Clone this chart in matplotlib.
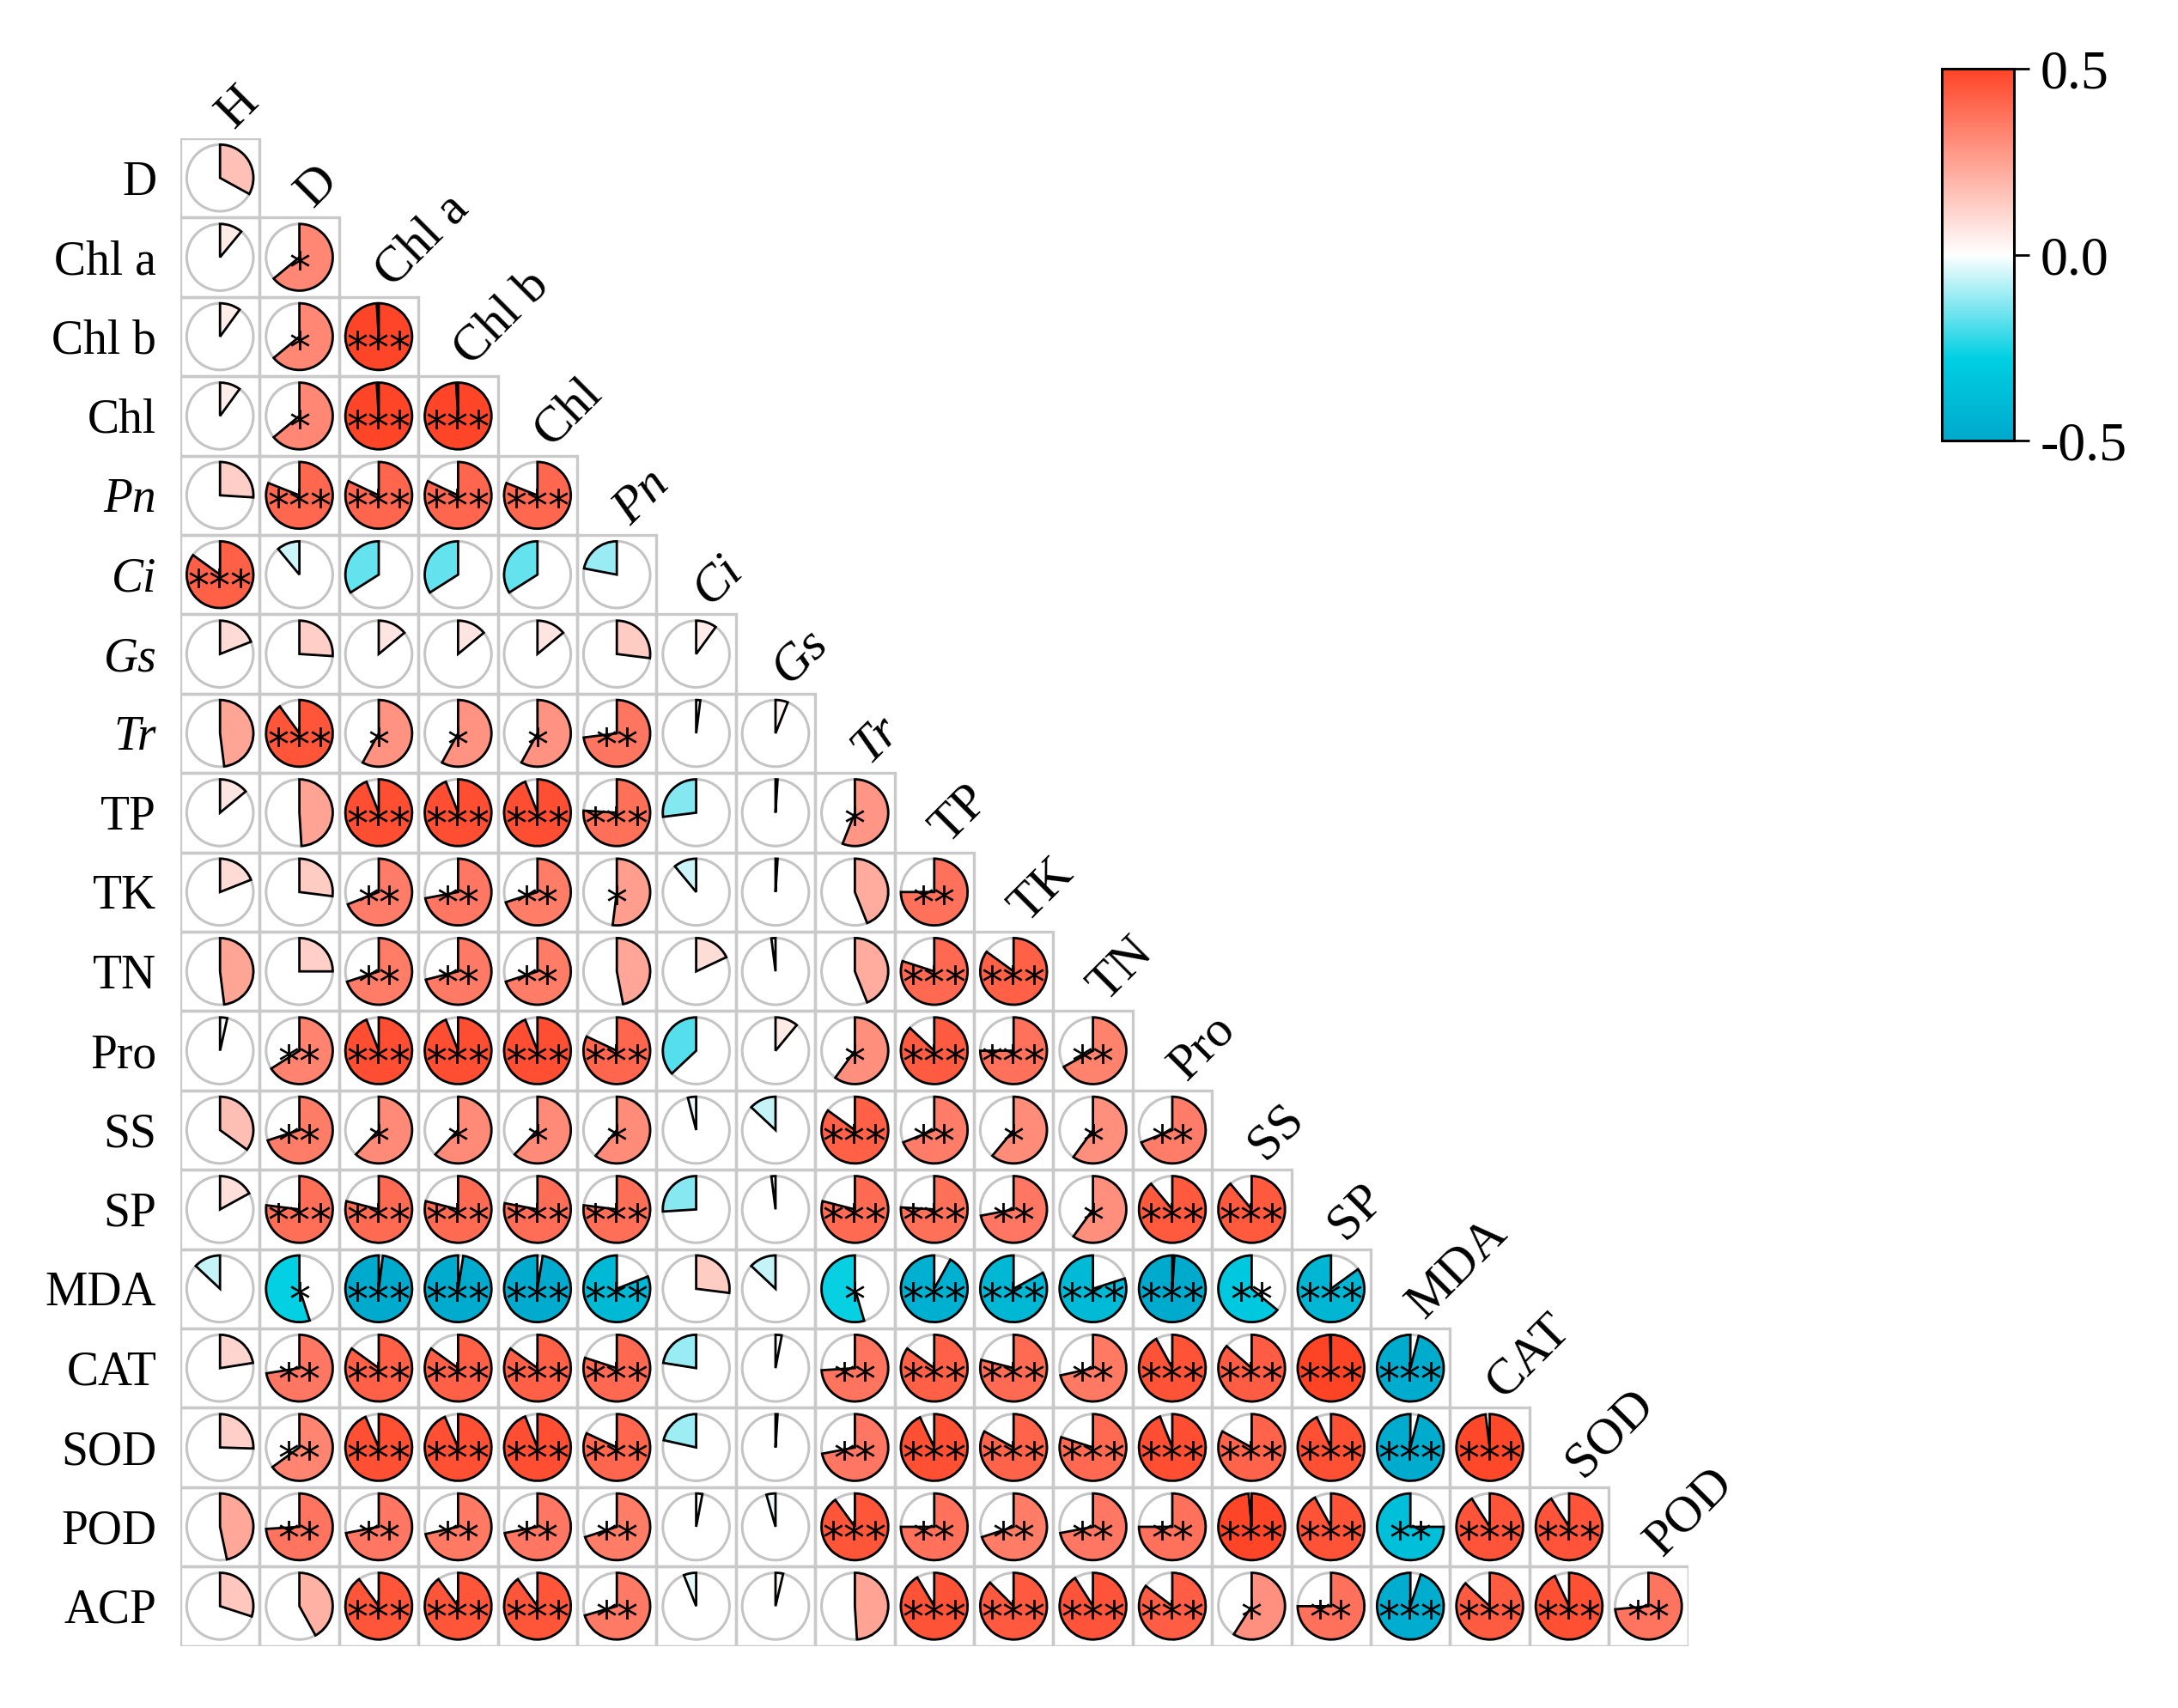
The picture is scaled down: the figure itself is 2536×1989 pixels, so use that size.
import matplotlib
matplotlib.use('Agg')
import matplotlib.pyplot as plt
from matplotlib.patches import Wedge, Circle, Rectangle
from matplotlib.colors import LinearSegmentedColormap, Normalize
from matplotlib.cm import ScalarMappable

col_labels = ['H', 'D', 'Chl a', 'Chl b', 'Chl', 'Pn', 'Ci', 'Gs', 'Tr', 'TP', 'TK',
              'TN', 'Pro', 'SS', 'SP', 'MDA', 'CAT', 'SOD', 'POD']
row_labels = ['D', 'Chl a', 'Chl b', 'Chl', 'Pn', 'Ci', 'Gs', 'Tr', 'TP', 'TK', 'TN',
              'Pro', 'SS', 'SP', 'MDA', 'CAT', 'SOD', 'POD', 'ACP']
italic_labels = ['Pn', 'Ci', 'Gs', 'Tr']

# correlation coefficients (lower triangle, one list per row)
r_D = [0.33]
r_Chla = [0.11, 0.64]
r_Chlb = [0.10, 0.64, 0.99]
r_Chl = [0.10, 0.64, 0.99, 0.99]
r_Pn = [0.26, 0.81, 0.82, 0.82, 0.81]
r_Ci = [0.85, -0.11, -0.34, -0.34, -0.34, -0.22]
r_Gs = [0.19, 0.26, 0.14, 0.14, 0.14, 0.27, 0.10]
r_Tr = [0.48, 0.90, 0.58, 0.58, 0.58, 0.73, 0.02, 0.06]
r_TP = [0.14, 0.49, 0.94, 0.94, 0.94, 0.76, -0.27, 0.01, 0.56]
r_TK = [0.19, 0.27, 0.69, 0.72, 0.70, 0.52, -0.11, 0.01, 0.44, 0.75]
r_TN = [0.48, 0.25, 0.70, 0.71, 0.70, 0.47, 0.18, -0.02, 0.44, 0.80, 0.85]
r_Pro = [0.035, 0.66, 0.94, 0.94, 0.94, 0.82, -0.37, 0.11, 0.60, 0.87, 0.75, 0.67]
r_SS = [0.35, 0.70, 0.62, 0.62, 0.62, 0.61, -0.04, -0.13, 0.85, 0.69, 0.61, 0.60, 0.69]
r_SP = [0.17, 0.77, 0.79, 0.79, 0.78, 0.77, -0.26, -0.02, 0.79, 0.76, 0.72, 0.60, 0.89, 0.89]
r_MDA = [-0.13, -0.55, -0.98, -0.975, -0.975, -0.81, 0.27, -0.13, -0.545, -0.92, -0.83,
         -0.80, -0.99, -0.64, -0.85]
r_CAT = [0.225, 0.725, 0.85, 0.85, 0.85, 0.80, -0.225, 0.03, 0.74, 0.85, 0.79, 0.715,
         0.92, 0.865, 0.995, -0.96]
r_SOD = [0.255, 0.65, 0.935, 0.935, 0.94, 0.82, -0.215, 0.01, 0.72, 0.93, 0.83, 0.80,
         0.94, 0.83, 0.93, -0.96, 0.98]
r_POD = [0.467, 0.74, 0.72, 0.715, 0.72, 0.70, 0.03, -0.044, 0.90, 0.75, 0.70, 0.72,
         0.75, 0.985, 0.92, -0.75, 0.91, 0.91]
r_ACP = [0.30, 0.42, 0.90, 0.90, 0.90, 0.705, -0.06, 0.037, 0.49, 0.915, 0.875, 0.91,
         0.854, 0.59, 0.75, -0.95, 0.87, 0.93, 0.735]

# significance marks
s_D = ['']
s_Chla = ['', '*']
s_Chlb = ['', '*', '***']
s_Chl = ['', '*', '***', '***']
s_Pn = ['', '***', '***', '***', '***']
s_Ci = ['***', '', '', '', '', '']
s_Gs = ['', '', '', '', '', '', '']
s_Tr = ['', '***', '*', '*', '*', '**', '', '']
s_TP = ['', '', '***', '***', '***', '***', '', '', '*']
s_TK = ['', '', '**', '**', '**', '*', '', '', '', '**']
s_TN = ['', '', '**', '**', '**', '', '', '', '', '***', '***']
s_Pro = ['', '**', '***', '***', '***', '***', '', '', '*', '***', '***', '**']
s_SS = ['', '**', '*', '*', '*', '*', '', '', '***', '**', '*', '*', '**']
s_SP = ['', '***', '***', '***', '***', '***', '', '', '***', '***', '**', '*', '***', '***']
s_MDA = ['', '*', '***', '***', '***', '***', '', '', '*', '***', '***', '***', '***', '**', '***']
s_CAT = ['', '**', '***', '***', '***', '***', '', '', '**', '***', '***', '**', '***', '***',
         '***', '***']
s_SOD = ['', '**', '***', '***', '***', '***', '', '', '**', '***', '***', '***', '***', '***',
         '***', '***', '***']
s_POD = ['', '**', '**', '**', '**', '**', '', '', '***', '**', '**', '**', '**', '***',
         '***', '**', '***', '***']
s_ACP = ['', '', '***', '***', '***', '**', '', '', '', '***', '***', '***', '***', '*',
         '**', '***', '***', '***', '**']

corr_rows = [r_D, r_Chla, r_Chlb, r_Chl, r_Pn, r_Ci, r_Gs, r_Tr, r_TP, r_TK, r_TN, r_Pro,
             r_SS, r_SP, r_MDA, r_CAT, r_SOD, r_POD, r_ACP]
sig_rows = [s_D, s_Chla, s_Chlb, s_Chl, s_Pn, s_Ci, s_Gs, s_Tr, s_TP, s_TK, s_TN, s_Pro,
            s_SS, s_SP, s_MDA, s_CAT, s_SOD, s_POD, s_ACP]

cmap = LinearSegmentedColormap.from_list(
    'pie', [(0.0, '#00A9CC'), (0.22, '#00CFE2'), (0.5, '#FFFFFF'), (1.0, '#FF4426')])

SERIF = 'Liberation Serif'
W, H = 2536, 1990
fig = plt.figure(figsize=(W / 100, H / 100), dpi=100)
n = len(col_labels)
cell_px = 92.4
left_px, top_px = 210, 162
ax = fig.add_axes([left_px / W, 1 - (top_px + n * cell_px) / H, n * cell_px / W, n * cell_px / H])
ax.set_xlim(0, n)
ax.set_ylim(0, n)
ax.axis('off')

R = 0.42
for i, (vals, sigs) in enumerate(zip(corr_rows, sig_rows)):
    y0 = n - i - 1
    cy = y0 + 0.5
    for j, (v, s) in enumerate(zip(vals, sigs)):
        cx = j + 0.5
        ax.add_patch(Rectangle((j, y0), 1, 1, fill=False, ec='#c9c9c9', lw=2.4, zorder=1))
        ax.add_patch(Circle((cx, cy), R, fill=False, ec='#c4c4c4', lw=2.2, zorder=2))
        color = cmap((v + 1) / 2)
        if v >= 0:
            w = Wedge((cx, cy), R, 90 - 360 * v, 90, fc=color, ec='black', lw=2.0, zorder=3)
        else:
            w = Wedge((cx, cy), R, 90, 90 - 360 * v, fc=color, ec='black', lw=2.0, zorder=3)
        ax.add_patch(w)
        if s:
            ax.text(cx, cy - 0.31, s, ha='center', va='baseline', fontsize=36,
                    family='DejaVu Sans', zorder=4)

# row labels
for i, lab in enumerate(row_labels):
    cy = n - i - 0.5
    ax.text(-0.3, cy - 0.2, lab, ha='right', va='baseline', fontsize=40, family=SERIF,
            style='italic' if lab in italic_labels else 'normal', clip_on=False)

# column labels (diagonal)
for j, lab in enumerate(col_labels):
    top = n - j
    ax.text(j + 0.5 + 0.17, top + 0.12, lab, ha='left', va='baseline', rotation=45,
            rotation_mode='anchor', fontsize=43, family=SERIF,
            style='italic' if lab in italic_labels else 'normal', clip_on=False)

# colorbar
cax = fig.add_axes([2261 / W, 1 - 514 / H, 84 / W, 433 / H])
sm = ScalarMappable(norm=Normalize(-0.5, 0.5), cmap=cmap)
cb = fig.colorbar(sm, cax=cax, ticks=[-0.5, 0.0, 0.5])
cb.ax.set_yticklabels(['-0.5', '0.0', '0.5'])
for t in cb.ax.get_yticklabels():
    t.set_fontfamily(SERIF)
    t.set_fontsize(46)
cb.outline.set_linewidth(2.2)
cb.ax.tick_params(length=13, width=2, pad=9)

fig.savefig('out.png', dpi=100, facecolor='white')
